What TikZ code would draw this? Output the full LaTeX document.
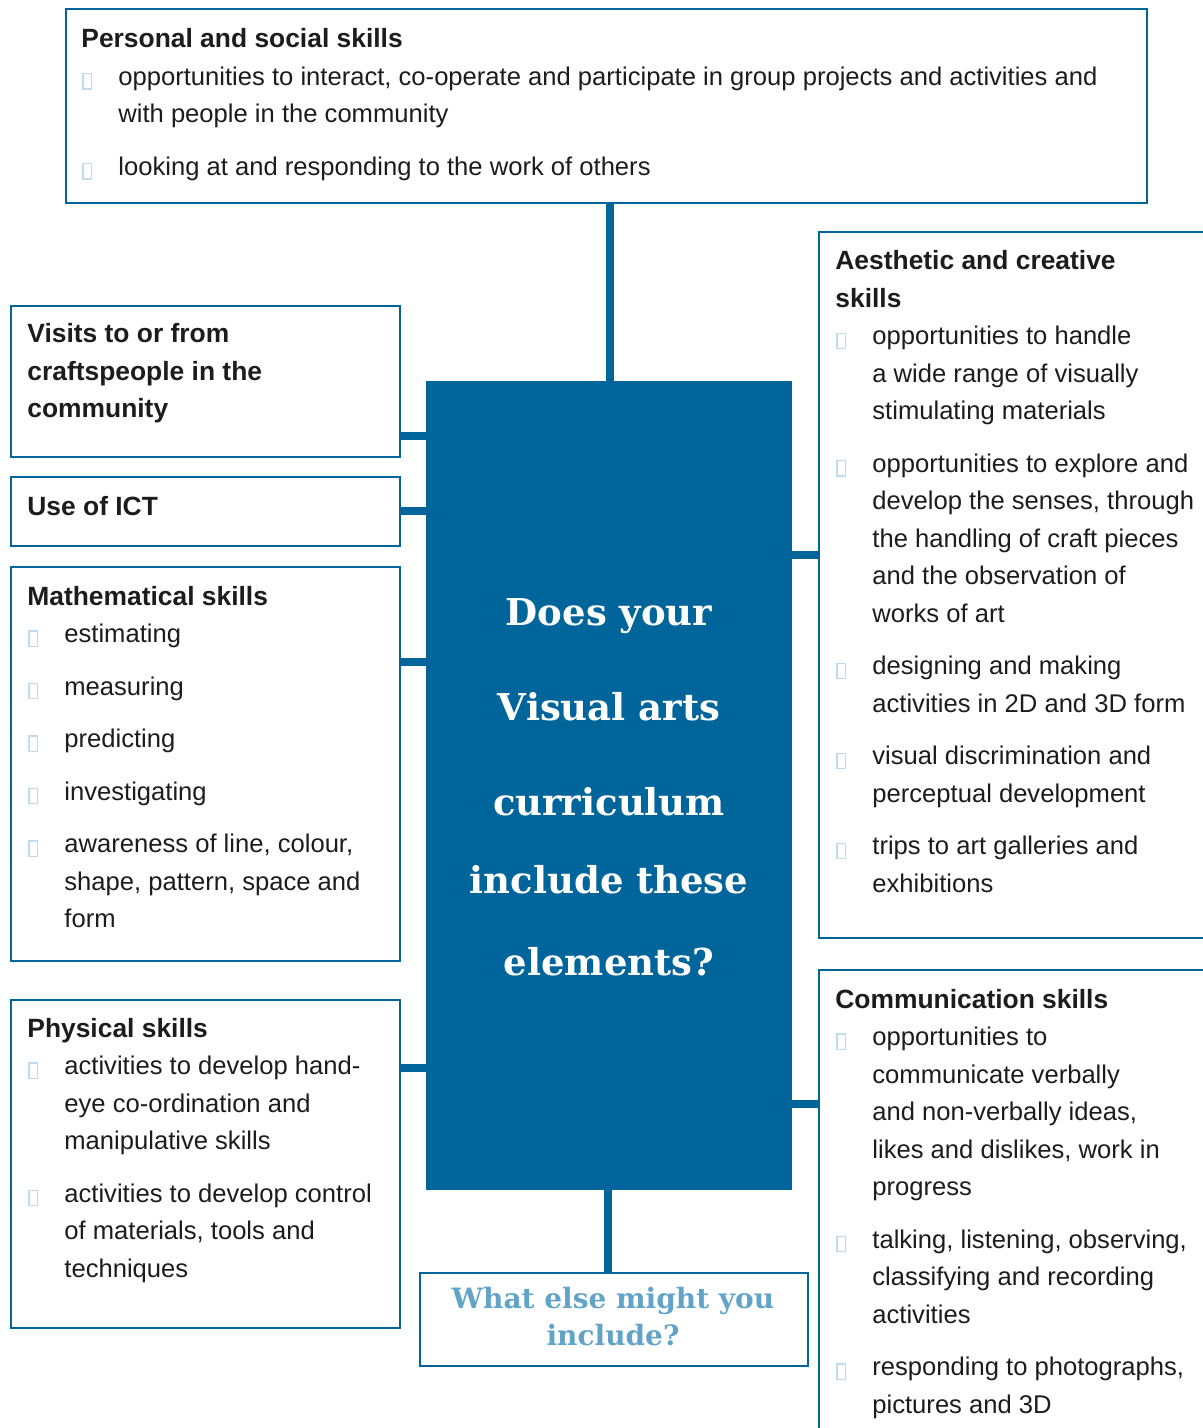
\documentclass[tikz,border=0pt]{standalone}
\usepackage{fontspec}
\setmainfont{Liberation Sans}
\newfontfamily\slabfont{DejaVu Serif}

\definecolor{navy}{RGB}{0,101,154}
\definecolor{pale}{RGB}{98,164,200}
\definecolor{bulc}{RGB}{190,220,238}
\definecolor{ink}{RGB}{28,28,28}

% small outlined square used as list marker
\newcommand\bulbox{{\color{bulc}\setlength\fboxrule{0.6pt}\setlength\fboxsep{0pt}%
  \raisebox{-1.5pt}{\fbox{\rule{0pt}{7pt}\rule{3.8pt}{0pt}}}}}
% a text block whose reference point is the baseline of its first line;
% line breaks are explicit, so \\ keeps the paragraph (and its hanging indent)
\newcommand\panel[1]{\vtop{\hsize=600pt\parindent=0pt
  \fontsize{12.8}{18.75}\selectfont #1}}
\newcommand\hd[1]{{\bfseries\fontsize{13.2}{18.75}\selectfont #1\par}}
\newcommand\itm[1]{\par\hangindent=18.5pt\hangafter=1\noindent
  \makebox[18.5pt][l]{\hspace{0.5pt}\bulbox}#1\par}
\newcommand\nxt{\vspace{7.5pt}}

\begin{document}
\begin{tikzpicture}[x=0.5pt,y=-0.5pt,
  box/.style={draw=navy,line width=1pt,inner sep=0pt,anchor=north west},
  hubbox/.style={fill=navy,draw=none,inner sep=0pt,anchor=north west},
  conn/.style={draw=navy,line width=4pt},
  txt/.style={anchor=base west,inner sep=0pt,text=ink}]
\useasboundingbox (0,0) rectangle (1203,1428);
\clip (0,0) rectangle (1203,1428);

% frames
\node[box,minimum width=540.5pt,minimum height=97pt] (top) at (65,8) {};
\node[box,minimum width=194.5pt,minimum height=75.5pt] (visits) at (10,305) {};
\node[box,minimum width=194.5pt,minimum height=34.5pt] (ict) at (10,476) {};
\node[box,minimum width=194.5pt,minimum height=197pt] (math) at (10,566) {};
\node[box,minimum width=194.5pt,minimum height=164pt] (phys) at (10,999) {};
\node[box,minimum width=201pt,minimum height=353pt] (aes) at (818,231) {};
\node[box,minimum width=201pt,minimum height=238pt] (comm) at (818,969) {};
\node[box,minimum width=194pt,minimum height=46.5pt] (ask) at (419,1272) {};
\node[hubbox,minimum width=183pt,minimum height=404.5pt] (hub) at (426,381) {};

% connectors
\coordinate (jt) at (610,202);
\coordinate (jb) at (608,1190);
\coordinate (jv) at (399,436);
\coordinate (ji) at (399,511);
\coordinate (jm) at (399,662);
\coordinate (jp) at (399,1068);
\coordinate (ja) at (792,555);
\coordinate (jc) at (792,1104);
\draw[conn] (jt) -- (jt |- hub.north);
\draw[conn] (jb) -- (jb |- ask.north);
\draw[conn] (jv) -- (jv -| hub.west);
\draw[conn] (ji) -- (ji -| hub.west);
\draw[conn] (jm) -- (jm -| hub.west);
\draw[conn] (jp) -- (jp -| hub.west);
\draw[conn] (ja) -- (ja -| aes.west);
\draw[conn] (jc) -- (jc -| comm.west);

% central question
\node[anchor=base,inner sep=0pt,text=white] (question) at (609,625)
  {\vtop{\hsize=190pt\centering\slabfont\bfseries\fontsize{18.5}{47.5}\selectfont
   Does your\\Visual arts\\curriculum\\[-8.5pt]include these\\[-6.5pt]elements?}};
\node[anchor=base,inner sep=0pt,text=pale] (asktext) at (613,1308)
  {\vtop{\hsize=190pt\centering\slabfont\bfseries\fontsize{14}{18.5}\selectfont
   What else might you\\include?}};

% box contents
\node[txt] (toptext) at (81,48) {\panel{%
  \hd{Personal and social skills}
  \itm{opportunities to interact, co-operate and participate in group projects and activities and\\with people in the community}
  \nxt\itm{looking at and responding to the work of others}}};

\node[txt] (visitstext) at (27,343) {\panel{%
  \hd{Visits to or from\\craftspeople in the\\community}}};

\node[txt] (icttext) at (27,515) {\panel{\hd{Use of ICT}}};

\node[txt] (mathtext) at (27,605) {\panel{%
  \hd{Mathematical skills}
  \itm{estimating}
  \nxt\itm{measuring}
  \nxt\itm{predicting}
  \nxt\itm{investigating}
  \nxt\itm{awareness of line, colour,\\shape, pattern, space and\\form}}};

\node[txt] (physttext) at (27,1037) {\panel{%
  \hd{Physical skills}
  \itm{activities to develop hand-\\eye co-ordination and\\manipulative skills}
  \nxt\itm{activities to develop control\\of materials, tools and\\techniques}}};

\node[txt] (aestext) at (835,270) {\panel{%
  \hd{Aesthetic and creative\\skills}
  \itm{opportunities to handle\\a wide range of visually\\stimulating materials}
  \nxt\itm{opportunities to explore and\\develop the senses, through\\the handling of craft pieces\\and the observation of\\works of art}
  \nxt\itm{designing and making\\activities in 2D and 3D form}
  \nxt\itm{visual discrimination and\\perceptual development}
  \nxt\itm{trips to art galleries and\\exhibitions}}};

\node[txt] (commtext) at (835,1008) {\panel{%
  \hd{Communication skills}
  \itm{opportunities to\\communicate verbally\\and non-verbally ideas,\\likes and dislikes, work in\\progress}
  \nxt\itm{talking, listening, observing,\\classifying and recording\\activities}
  \nxt\itm{responding to photographs,\\pictures and 3D}}};
\end{tikzpicture}
\end{document}
